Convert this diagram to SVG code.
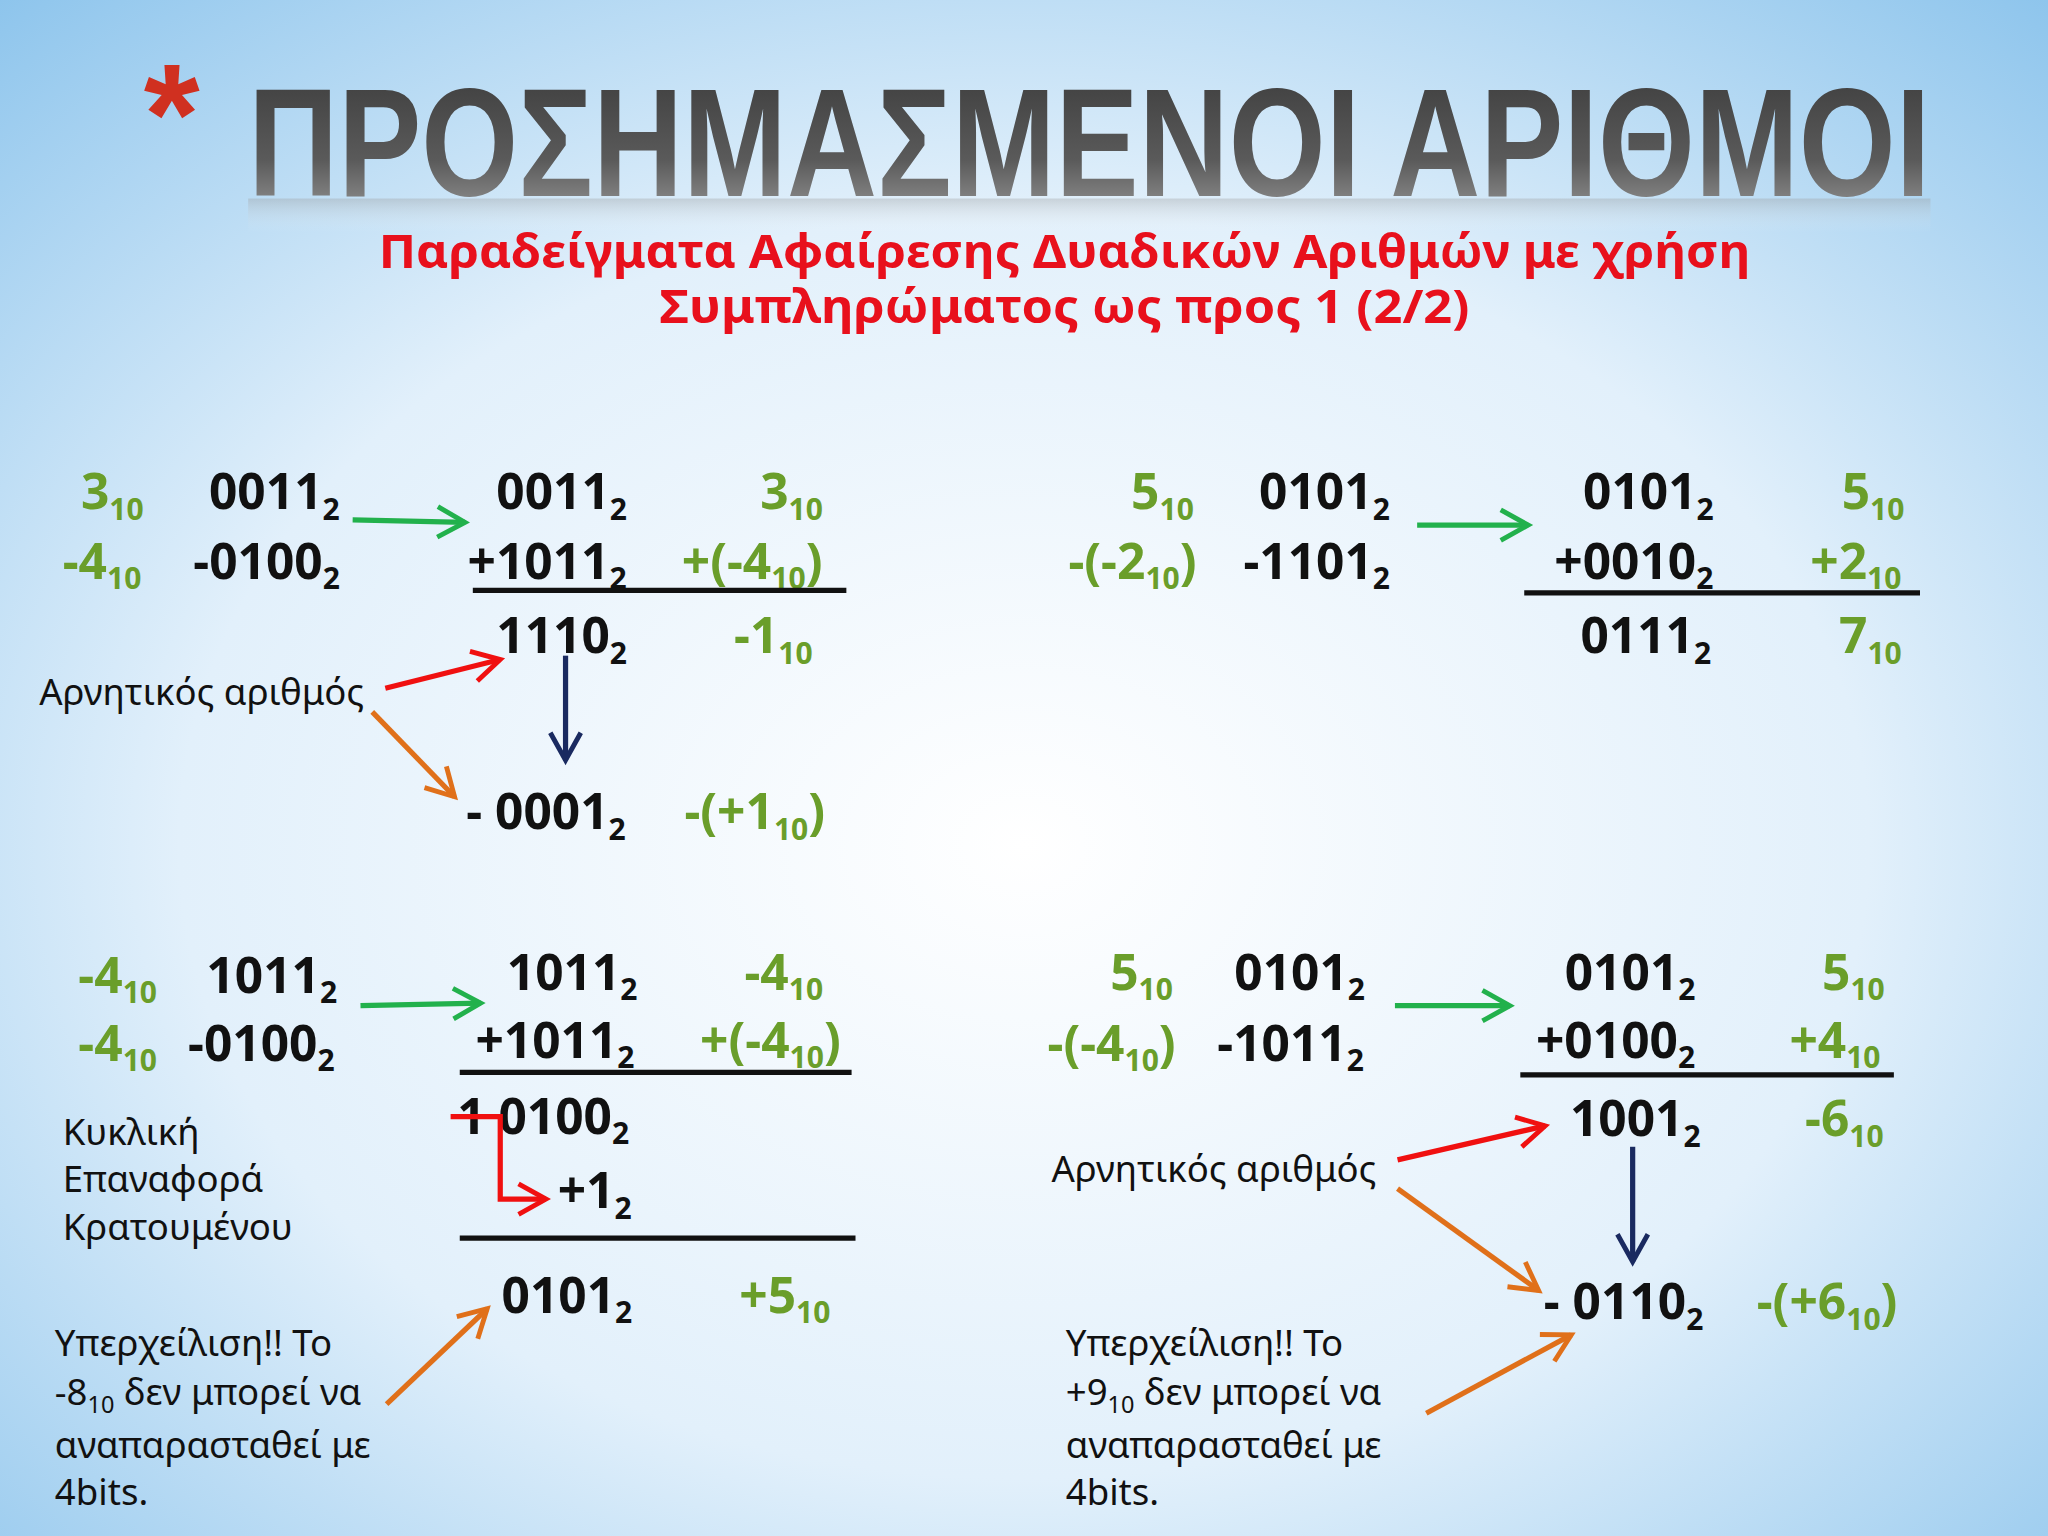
<svg xmlns="http://www.w3.org/2000/svg" width="2048" height="1536" viewBox="0 0 2048 1536">
<defs>
<radialGradient id="bg" cx="0.5" cy="0.55" r="0.75">
<stop offset="0" stop-color="#ffffff"/><stop offset="0.55" stop-color="#e2f0fb"/><stop offset="1" stop-color="#8cc4ec"/>
</radialGradient>
<linearGradient id="tg" x1="0" y1="0" x2="0" y2="1">
<stop offset="0" stop-color="#3a3a3a"/><stop offset="0.6" stop-color="#5a5a5a"/><stop offset="1" stop-color="#a0a0a0"/>
</linearGradient>
<linearGradient id="rg" x1="0" y1="0" x2="0" y2="1">
<stop offset="0" stop-color="#999" stop-opacity="0.35"/><stop offset="1" stop-color="#fff" stop-opacity="0"/>
</linearGradient>
<marker id="ag" viewBox="0 0 12 12" refX="10" refY="6" markerWidth="7" markerHeight="7" orient="auto" markerUnits="strokeWidth"><path d="M1,1 L10,6 L1,11" fill="none" stroke="#22b14c" stroke-width="1.6"/></marker>
<marker id="ar" viewBox="0 0 12 12" refX="10" refY="6" markerWidth="7" markerHeight="7" orient="auto" markerUnits="strokeWidth"><path d="M1,1 L10,6 L1,11" fill="none" stroke="#f01010" stroke-width="1.6"/></marker>
<marker id="ao" viewBox="0 0 12 12" refX="10" refY="6" markerWidth="7" markerHeight="7" orient="auto" markerUnits="strokeWidth"><path d="M1,1 L10,6 L1,11" fill="none" stroke="#e0701a" stroke-width="1.6"/></marker>
<marker id="an" viewBox="0 0 12 12" refX="10" refY="6" markerWidth="7" markerHeight="7" orient="auto" markerUnits="strokeWidth"><path d="M1,1 L10,6 L1,11" fill="none" stroke="#1a2a60" stroke-width="1.6"/></marker>
</defs>
<style>
.n{font-family:"Noto Sans","DejaVu Sans",sans-serif;font-weight:bold;font-size:38px;fill:#111}
.g{fill:#6a9e2a}
.s{font-size:23px}
.t{font-family:"Noto Sans","DejaVu Sans",sans-serif;font-size:28px;fill:#111}
.ts{font-size:18px}
.l{stroke:#111;stroke-width:4}
.cg{stroke:#22b14c;stroke-width:4;fill:none;marker-end:url(#ag)}
.cr{stroke:#f01010;stroke-width:4;fill:none;marker-end:url(#ar)}
.co{stroke:#e0701a;stroke-width:4;fill:none;marker-end:url(#ao)}
.cn{stroke:#1a2a60;stroke-width:4;fill:none;marker-end:url(#an)}
</style>
<rect width="2048" height="1536" fill="url(#bg)"/>
<g transform="scale(1.30612)">
<g id="title">
<text x="110" y="125" font-family="Liberation Sans,sans-serif" font-size="110" font-weight="bold" fill="#d03020">*</text>
<text x="190" y="150" textLength="1288" lengthAdjust="spacingAndGlyphs" font-family="Liberation Sans,sans-serif" font-size="118" font-weight="bold" fill="url(#tg)">ΠΡΟΣΗΜΑΣΜΕΝΟΙ ΑΡΙΘΜΟΙ</text>
<rect x="190" y="152" width="1288" height="26" fill="url(#rg)"/>
<text x="815" y="205" text-anchor="middle" textLength="1050" lengthAdjust="spacingAndGlyphs" font-family="Noto Sans,sans-serif" font-size="36" font-weight="bold" fill="#e8101c">Παραδείγματα Αφαίρεσης Δυαδικών Αριθμών με χρήση</text>
<text x="815" y="247" text-anchor="middle" textLength="620" lengthAdjust="spacingAndGlyphs" font-family="Noto Sans,sans-serif" font-size="36" font-weight="bold" fill="#e8101c">Συμπληρώματος ως προς 1 (2/2)</text>
</g>
<g id="ex1">
<text class="n g" x="62" y="390">3<tspan class="s" dy="8">10</tspan></text>
<text class="n" x="160" y="390">0011<tspan class="s" dy="8">2</tspan></text>
<text class="n" x="380" y="390">0011<tspan class="s" dy="8">2</tspan></text>
<text class="n g" x="582" y="390">3<tspan class="s" dy="8">10</tspan></text>
<text class="n g" x="48" y="443">-4<tspan class="s" dy="8">10</tspan></text>
<text class="n" x="148" y="443">-0100<tspan class="s" dy="8">2</tspan></text>
<text class="n" x="358" y="443">+1011<tspan class="s" dy="8">2</tspan></text>
<text class="n g" x="522" y="443">+(-4<tspan class="s" dy="8">10</tspan><tspan dy="-8">)</tspan></text>
<text class="n" x="380" y="500">1110<tspan class="s" dy="8">2</tspan></text>
<text class="n g" x="562" y="500">-1<tspan class="s" dy="8">10</tspan></text>
<text class="t" x="30" y="540">Αρνητικός αριθμός</text>
<text class="n" x="357" y="635">- 0001<tspan class="s" dy="8">2</tspan></text>
<text class="n g" x="524" y="635">-(+1<tspan class="s" dy="8">10</tspan><tspan dy="-8">)</tspan></text>
</g>
<g id="ex2">
<text class="n g" x="866" y="390">5<tspan class="s" dy="8">10</tspan></text>
<text class="n" x="964" y="390">0101<tspan class="s" dy="8">2</tspan></text>
<text class="n" x="1212" y="390">0101<tspan class="s" dy="8">2</tspan></text>
<text class="n g" x="1410" y="390">5<tspan class="s" dy="8">10</tspan></text>
<text class="n g" x="818" y="443">-(-2<tspan class="s" dy="8">10</tspan><tspan dy="-8">)</tspan></text>
<text class="n" x="952" y="443">-1101<tspan class="s" dy="8">2</tspan></text>
<text class="n" x="1190" y="443">+0010<tspan class="s" dy="8">2</tspan></text>
<text class="n g" x="1386" y="443">+2<tspan class="s" dy="8">10</tspan></text>
<text class="n" x="1210" y="500">0111<tspan class="s" dy="8">2</tspan></text>
<text class="n g" x="1408" y="500">7<tspan class="s" dy="8">10</tspan></text>
</g>
<g id="ex3">
<text class="n g" x="60" y="760">-4<tspan class="s" dy="8">10</tspan></text>
<text class="n" x="158" y="760">1011<tspan class="s" dy="8">2</tspan></text>
<text class="n" x="388" y="758">1011<tspan class="s" dy="8">2</tspan></text>
<text class="n g" x="570" y="758">-4<tspan class="s" dy="8">10</tspan></text>
<text class="n g" x="60" y="812">-4<tspan class="s" dy="8">10</tspan></text>
<text class="n" x="144" y="812">-0100<tspan class="s" dy="8">2</tspan></text>
<text class="n" x="364" y="810">+1011<tspan class="s" dy="8">2</tspan></text>
<text class="n g" x="536" y="810">+(-4<tspan class="s" dy="8">10</tspan><tspan dy="-8">)</tspan></text>
<text class="n" x="350" y="868">1 0100<tspan class="s" dy="8">2</tspan></text>
<text class="n" x="427" y="925">+1<tspan class="s" dy="8">2</tspan></text>
<text class="n" x="384" y="1005">0101<tspan class="s" dy="8">2</tspan></text>
<text class="n g" x="566" y="1005">+5<tspan class="s" dy="8">10</tspan></text>
<text class="t" x="48" y="877">Κυκλική</text>
<text class="t" x="48" y="913">Επαναφορά</text>
<text class="t" x="48" y="949">Κρατουμένου</text>
<text class="t" x="42" y="1038">Υπερχείλιση!! Το</text>
<text class="t" x="42" y="1076">-8<tspan class="ts" dy="6">10</tspan><tspan dy="-6"> δεν μπορεί να</tspan></text>
<text class="t" x="42" y="1116">αναπαρασταθεί με</text>
<text class="t" x="42" y="1152">4bits.</text>
</g>
<g id="ex4">
<text class="n g" x="850" y="758">5<tspan class="s" dy="8">10</tspan></text>
<text class="n" x="945" y="758">0101<tspan class="s" dy="8">2</tspan></text>
<text class="n" x="1198" y="758">0101<tspan class="s" dy="8">2</tspan></text>
<text class="n g" x="1395" y="758">5<tspan class="s" dy="8">10</tspan></text>
<text class="n g" x="802" y="812">-(-4<tspan class="s" dy="8">10</tspan><tspan dy="-8">)</tspan></text>
<text class="n" x="932" y="812">-1011<tspan class="s" dy="8">2</tspan></text>
<text class="n" x="1176" y="810">+0100<tspan class="s" dy="8">2</tspan></text>
<text class="n g" x="1370" y="810">+4<tspan class="s" dy="8">10</tspan></text>
<text class="n" x="1202" y="870">1001<tspan class="s" dy="8">2</tspan></text>
<text class="n g" x="1382" y="870">-6<tspan class="s" dy="8">10</tspan></text>
<text class="t" x="805" y="905">Αρνητικός αριθμός</text>
<text class="n" x="1182" y="1010">- 0110<tspan class="s" dy="8">2</tspan></text>
<text class="n g" x="1345" y="1010">-(+6<tspan class="s" dy="8">10</tspan><tspan dy="-8">)</tspan></text>
<text class="t" x="816" y="1038">Υπερχείλιση!! Το</text>
<text class="t" x="816" y="1076">+9<tspan class="ts" dy="6">10</tspan><tspan dy="-6"> δεν μπορεί να</tspan></text>
<text class="t" x="816" y="1116">αναπαρασταθεί με</text>
<text class="t" x="816" y="1152">4bits.</text>
</g>
<g id="connectors">
<line class="l" x1="362" y1="452" x2="648" y2="452"/>
<line class="l" x1="1167" y1="454" x2="1470" y2="454"/>
<line class="l" x1="352" y1="821" x2="652" y2="821"/>
<line class="l" x1="352" y1="948" x2="655" y2="948"/>
<line class="l" x1="1164" y1="823" x2="1450" y2="823"/>
<line class="cg" x1="270" y1="398" x2="356" y2="400"/>
<line class="cg" x1="1085" y1="402" x2="1170" y2="402"/>
<line class="cg" x1="276" y1="770" x2="368" y2="768"/>
<line class="cg" x1="1068" y1="770" x2="1156" y2="770"/>
<line class="cr" x1="295" y1="527" x2="383" y2="505"/>
<line class="co" x1="285" y1="545" x2="348" y2="610"/>
<line class="cn" x1="433" y1="502" x2="433" y2="582"/>
<path class="cr" d="M345,855 L383,855 L383,918 L418,918"/>
<line class="co" x1="296" y1="1075" x2="373" y2="1002"/>
<line class="cr" x1="1070" y1="888" x2="1183" y2="862"/>
<line class="co" x1="1070" y1="910" x2="1178" y2="988"/>
<line class="cn" x1="1250" y1="878" x2="1250" y2="966"/>
<line class="co" x1="1092" y1="1082" x2="1203" y2="1022"/>
</g>
</g>
</svg>
